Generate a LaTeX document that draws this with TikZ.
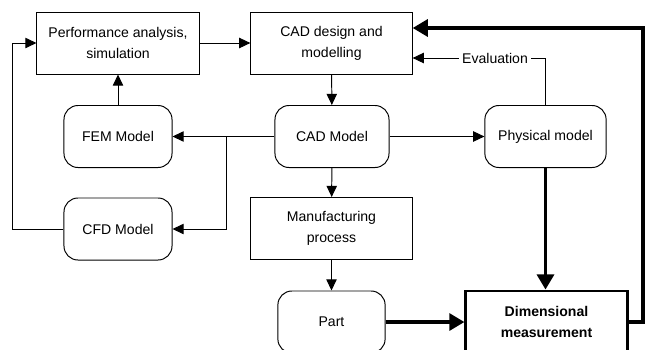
\documentclass[tikz,border=0pt]{standalone}
\usepackage{fontspec}
\setmainfont{Liberation Sans}
\usetikzlibrary{arrows.meta}

\begin{document}
\begin{tikzpicture}[
    every node/.style={font=\fontsize{10}{15}\selectfont, align=center, inner sep=0pt},
    plainbox/.style={draw, line width=0.7pt, minimum height=1.55cm},
    roundbox/.style={draw, line width=0.7pt, rounded corners=0.35cm, minimum height=1.55cm},
    thinarrow/.style={line width=0.7pt, -{Triangle[length=0.28cm, width=0.26cm]}},
    bigarrow/.style={line width=2.8pt, -{Triangle[length=0.38cm, width=0.42cm]}}]
\begin{scope}[x=0.025cm, y=-0.025cm]
	\useasboundingbox (0, 0) rectangle (645, 349);
	\clip (0, 0) rectangle (645, 349);
	\fill[white] (0, 0) rectangle (645, 349);

	\node[plainbox, minimum width=4.05cm] (perf) at (118, 43) {Performance analysis,\\simulation};
	\node[plainbox, minimum width=4.03cm] (caddesign) at (331.5, 43) {CAD design and\\modelling};
	\node[roundbox, minimum width=2.7cm] (fem) at (118, 136.5) {FEM Model};
	\node[roundbox, minimum width=2.85cm] (cadmodel) at (332, 136.5) {CAD Model};
	\node[roundbox, minimum width=3.03cm] (physical) at (545.5, 136.5) {Physical model};
	\node[roundbox, minimum width=2.7cm] (cfd) at (118, 229) {CFD Model};
	\node[plainbox, minimum width=4.03cm] (manufacturing) at (331.5, 228.5) {Manufacturing\\process};
	\node[roundbox, minimum width=2.68cm] (part) at (331.5, 322) {Part};
	\node[draw, line width=2pt, minimum width=4.03cm, minimum height=1.55cm, font=\fontsize{10}{15}\selectfont\bfseries] (dimensional) at (546.5, 322) {Dimensional\\measurement};

	\coordinate (split) at (226, 136.5);
	\coordinate (loopleft) at (12, 229);

	\draw[thinarrow] (perf) -- (caddesign);
	\draw[thinarrow] (fem) -- (perf);
	\draw[thinarrow] (cadmodel) -- (fem);
	\draw[thinarrow] (split) |- (cfd);
	\draw[thinarrow] (cfd) -- (loopleft) |- (perf);
	\draw[thinarrow] (caddesign) -- (cadmodel);
	\draw[thinarrow] (cadmodel) -- (physical);
	\draw[thinarrow] (cadmodel) -- (manufacturing);
	\draw[thinarrow] (manufacturing) -- (part);
	\draw[thinarrow] (physical.north) |- node[pos=0.69, fill=white, inner xsep=2pt, inner ysep=1pt] {Evaluation} ([yshift=-0.375cm]caddesign.east);

	\draw[bigarrow] (physical.south) -- (physical.south |- dimensional.north);
	\draw[bigarrow] (part) -- (dimensional);
	\draw[bigarrow] (dimensional.east) -- ++(14, 0) |- ([yshift=0.375cm]caddesign.east);
\end{scope}
\end{tikzpicture}
\end{document}
